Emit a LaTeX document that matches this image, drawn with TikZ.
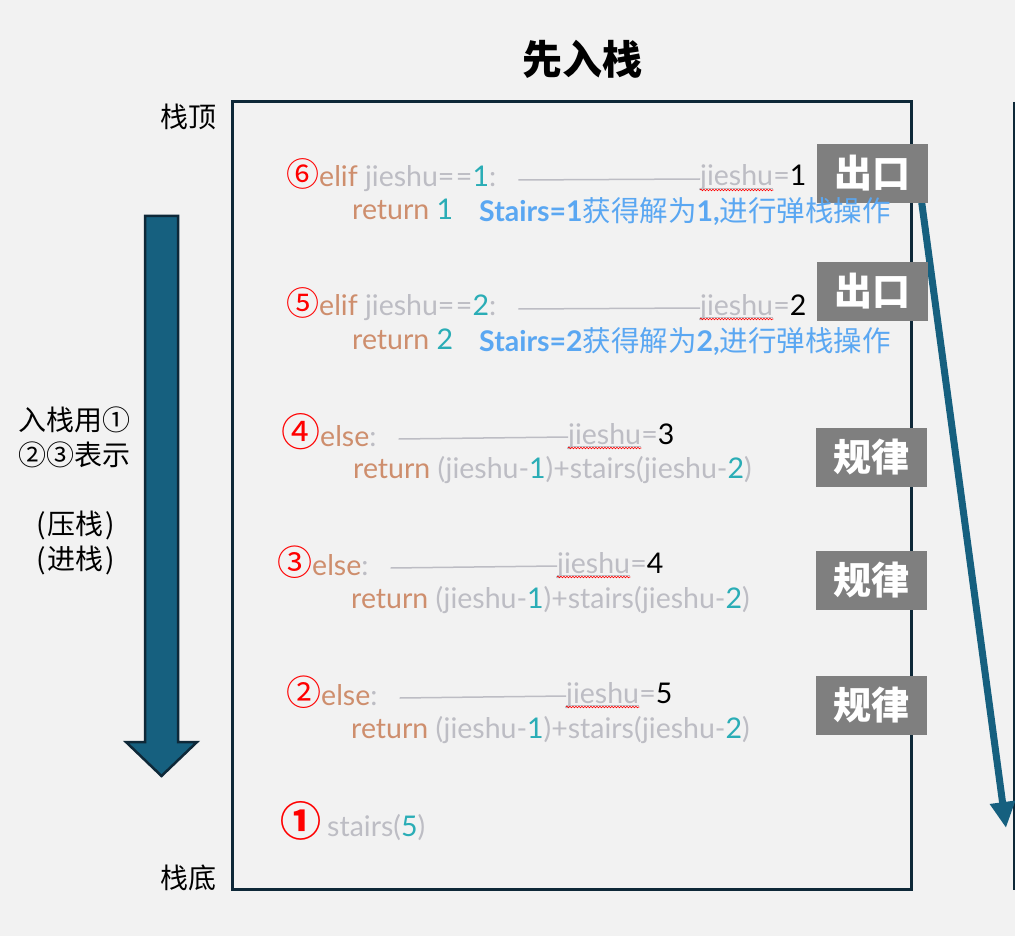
\documentclass[tikz,border=0pt]{standalone}
\usepackage{fontspec}
\setmainfont{Lato}
\newfontfamily\cjk{Noto Sans CJK SC}
\usetikzlibrary{arrows.meta,decorations.pathmorphing}
\definecolor{bg}{HTML}{F2F2F2}
\definecolor{navy}{HTML}{0E2838}
\definecolor{arrowblue}{HTML}{16607F}
\definecolor{kw}{HTML}{CE8E6D}
\definecolor{gr}{HTML}{BDBDC4}
\definecolor{tl}{HTML}{2AADB6}
\definecolor{sblue}{HTML}{5AA7F2}
\definecolor{boxgray}{HTML}{7F7F7F}
\newcommand\codefont{\fontsize{28.5}{32}\selectfont}
\newcommand\cnum[2]{\textcolor{red}{\cjk\fontsize{#1}{#1}\selectfont #2}}
\newcommand\cnumb[2]{\textcolor{red}{\cjk\bfseries\fontsize{#1}{#1}\selectfont #2}}
\tikzset{
  code/.style={inner sep=0pt, anchor=base west, font=\codefont},
  conn/.style={draw=gr, line width=1.5pt},
  wavy/.style={draw=red, line width=0.6pt, decorate, decoration={snake, amplitude=0.8pt, segment length=3pt}},
  uline/.style={draw=gr, line width=0.8pt},
  tag/.style={fill=boxgray, text=white, minimum width=111pt, minimum height=59pt, inner sep=0pt, font=\cjk\bfseries\fontsize{38}{40}\selectfont},
  side/.style={inner sep=0pt, font=\cjk\fontsize{28}{32}\selectfont},
}
\begin{document}
\begin{tikzpicture}[x=1pt,y=-1pt]
\useasboundingbox (0,0) rectangle (1015,936);
\fill[bg] (0,0) rectangle (1015,936);

% title and stack frame
\node[inner sep=0pt, font=\cjk\bfseries\fontsize{40}{44}\selectfont] (title) at (582,59) {先入栈};
\draw[navy, line width=3pt] (232,102) rectangle (911,889);
\draw[navy, line width=2pt] (1014,102) -- (1014,890);
\node[side] (top) at (188,117) {栈顶};
\node[side] (bot) at (188,878) {栈底};

% left push arrow
\draw[navy, line width=2.5pt, fill=arrowblue, line join=miter]
  (145,216) -- (178,216) -- (178,742) -- (197,742) -- (161.5,776) -- (126,742) -- (145,742) -- cycle;
\node[side] (l1) at (75,420) {入栈用①};
\node[side] (l2) at (75,455) {②③表示};
\node[side] (l3) at (76,525) {(\kern2pt压栈\kern2pt)};
\node[side] (l4) at (76,560) {(\kern2pt进栈\kern2pt)};

% right pop arrow
\coordinate (ra) at (918,175);
\coordinate (rb) at (1006,828);
\draw[arrowblue, line width=7pt, -{Triangle[width=24pt,length=26pt]}] (ra) -- (rb);

% tags
\node[tag] (o1) at (872.5,173.5) {出口};
\node[tag] (o2) at (872.5,291.5) {出口};
\node[tag] (g1) at (871.5,457) {规律};
\node[tag] (g2) at (871.5,580) {规律};
\node[tag] (g3) at (871.5,705.5) {规律};

% row 6
\node[code] (c6) at (286,187) {\cnum{33}{⑥}\textcolor{kw}{elif} \textcolor{gr}{jieshu=\kern1.5pt=}\textcolor{tl}{1}\textcolor{gr}{:}};
\node[code] (j6) at (700,186) {\textcolor{gr}{jieshu}};
\node[code] (e6) at (j6.base east) {\textcolor{gr}{=}1};
\node[code] (r6) at (352,220) {\textcolor{kw}{return} \textcolor{tl}{1}};
\node[code, text=sblue] (s6) at (479,222) {\bfseries Stairs=1{\cjk\mdseries 获得解为}1,{\cjk\mdseries 进行弹栈操作}};

% row 5
\node[code] (c5) at (286,316) {\cnum{33}{⑤}\textcolor{kw}{elif} \textcolor{gr}{jieshu=\kern1.5pt=}\textcolor{tl}{2}\textcolor{gr}{:}};
\node[code] (j5) at (700,315) {\textcolor{gr}{jieshu}};
\node[code] (e5) at (j5.base east) {\textcolor{gr}{=}2};
\node[code] (r5) at (352,349) {\textcolor{kw}{return} \textcolor{tl}{2}};
\node[code, text=sblue] (s5) at (479,351) {\bfseries Stairs=2{\cjk\mdseries 获得解为}2,{\cjk\mdseries 进行弹栈操作}};

% row 4
\node[code] (c4) at (281,446) {\cnum{39}{④}\textcolor{kw}{else}\textcolor{gr}{:}};
\node[code] (j4) at (568,444) {\textcolor{gr}{jieshu}};
\node[code] (e4) at (j4.base east) {\textcolor{gr}{=}3};
\node[code] (r4) at (353,478) {\textcolor{kw}{return} \textcolor{gr}{(jieshu-}\textcolor{tl}{1}\textcolor{gr}{)+stairs(jieshu-}\textcolor{tl}{2}\textcolor{gr}{)}};

% row 3
\node[code] (c3) at (277,575) {\cnum{35}{③}\textcolor{kw}{else}\textcolor{gr}{:}};
\node[code] (j3) at (557,573) {\textcolor{gr}{jieshu}};
\node[code] (e3) at (j3.base east) {\textcolor{gr}{=}4};
\node[code] (r3) at (351,608) {\textcolor{kw}{return} \textcolor{gr}{(jieshu-}\textcolor{tl}{1}\textcolor{gr}{)+stairs(jieshu-}\textcolor{tl}{2}\textcolor{gr}{)}};

% row 2
\node[code] (c2) at (286,705) {\cnum{35}{②}\textcolor{kw}{else}\textcolor{gr}{:}};
\node[code] (j2) at (566,703) {\textcolor{gr}{jieshu}};
\node[code] (e2) at (j2.base east) {\textcolor{gr}{=}5};
\node[code] (r2) at (351,738) {\textcolor{kw}{return} \textcolor{gr}{(jieshu-}\textcolor{tl}{1}\textcolor{gr}{)+stairs(jieshu-}\textcolor{tl}{2}\textcolor{gr}{)}};

% row 1
\node[code] (c1) at (280,836) {\cnumb{41}{①}\hspace{6pt}\textcolor{gr}{stairs(}\textcolor{tl}{5}\textcolor{gr}{)}};

% connectors and underlines
\foreach \n in {6,5,4,3,2}{
  \draw[conn] ([xshift=22pt,yshift=7pt]c\n.base east) -- ([yshift=7pt]j\n.base west);
  \draw[uline] ([yshift=-2pt]j\n.base west) -- ([yshift=-2pt]j\n.base east);
  \draw[wavy] ([yshift=-4pt]j\n.base west) -- ([yshift=-4pt]j\n.base east);
}
\end{tikzpicture}
\end{document}
